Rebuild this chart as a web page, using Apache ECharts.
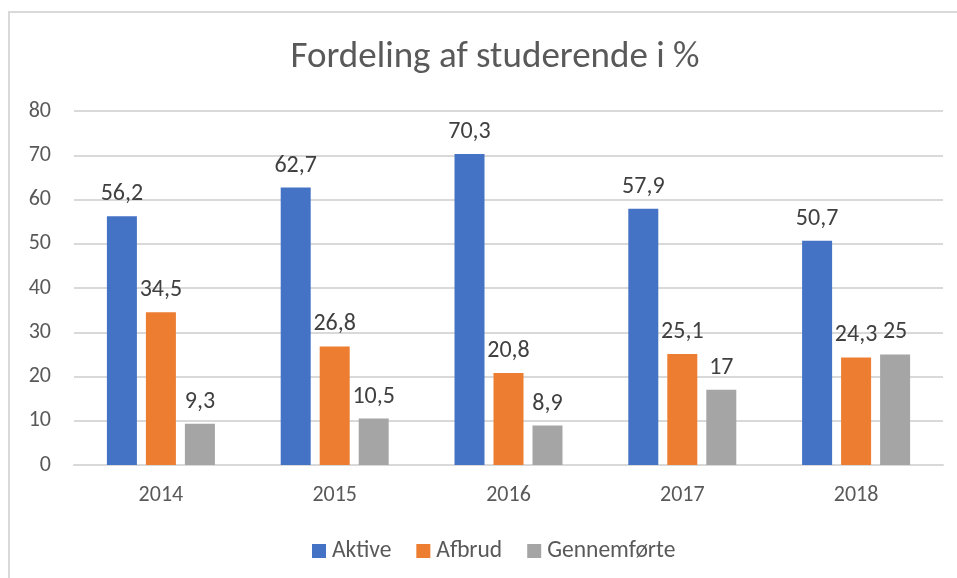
<!DOCTYPE html>
<html>
<head>
<meta charset="utf-8">
<script src="https://cdn.jsdelivr.net/npm/echarts@6/dist/echarts.min.js"></script>
<style>
html,body{margin:0;padding:0;background:#fff;}
#chart{width:957px;height:578px;}
</style>
</head>
<body>
<div id="chart"></div>
<script>
var categories = ['2014', '2015', '2016', '2017', '2018'];
var aktive = [56.2, 62.7, 70.3, 57.9, 50.7];
var afbrud = [34.5, 26.8, 20.8, 25.1, 24.3];
var gennemforte = [9.3, 10.5, 8.9, 17, 25];
var seriesNames = ['Aktive', 'Afbrud', 'Gennemførte'];
var yTicks = [0, 10, 20, 30, 40, 50, 60, 70, 80];

var FONT = 'Carlito, Lato, "Open Sans", sans-serif';
var colors = ['#4472C4', '#ED7D31', '#A5A5A5'];

function mkSeries(name, data, color) {
  return {
    name: name,
    type: 'bar',
    data: data,
    barWidth: 30,
    barGap: '30%',
    itemStyle: { color: color },
    label: {
      show: true,
      position: 'top',
      distance: 10,
      color: '#404040',
      fontFamily: FONT,
      fontSize: 24,
      formatter: function (p) { return String(p.value).replace('.', ','); }
    }
  };
}

var chart = echarts.init(document.getElementById('chart'), null, { renderer: 'canvas' });
chart.setOption({
  animation: false,
  color: colors,
  graphic: [{
    type: 'rect',
    shape: { x: 9, y: 12, width: 1100, height: 1000 },
    style: { fill: 'none', stroke: '#D9D9D9', lineWidth: 2 },
    silent: true,
    z: -10
  }],
  title: {
    text: 'Fordeling af studerende i %',
    left: 490,
    textAlign: 'center',
    top: 34,
    textStyle: { fontFamily: FONT, fontSize: 37, fontWeight: 'normal', color: '#595959' }
  },
  legend: {
    data: seriesNames,
    left: 312,
    top: 539,
    padding: 0,
    itemWidth: 14,
    itemHeight: 14,
    itemGap: 25,
    icon: 'rect',
    textStyle: { fontFamily: FONT, fontSize: 23.5, color: '#595959', padding: [0, 0, 0, 1] }
  },
  grid: { left: 74, right: 14, top: 111, bottom: 113, containLabel: false },
  xAxis: {
    type: 'category',
    data: categories,
    axisLine: { show: true, lineStyle: { color: '#D9D9D9', width: 2 } },
    axisTick: { show: false },
    axisLabel: { color: '#595959', fontFamily: FONT, fontSize: 22, margin: 19 }
  },
  yAxis: {
    type: 'value',
    min: yTicks[0],
    max: yTicks[yTicks.length - 1],
    interval: 10,
    axisLine: { show: false },
    axisTick: { show: false },
    splitLine: { lineStyle: { color: '#D9D9D9', width: 2 } },
    axisLabel: { color: '#595959', fontFamily: FONT, fontSize: 22, margin: 23 }
  },
  series: [
    mkSeries(seriesNames[0], aktive, colors[0]),
    mkSeries(seriesNames[1], afbrud, colors[1]),
    mkSeries(seriesNames[2], gennemforte, colors[2])
  ]
});
</script>
</body>
</html>
